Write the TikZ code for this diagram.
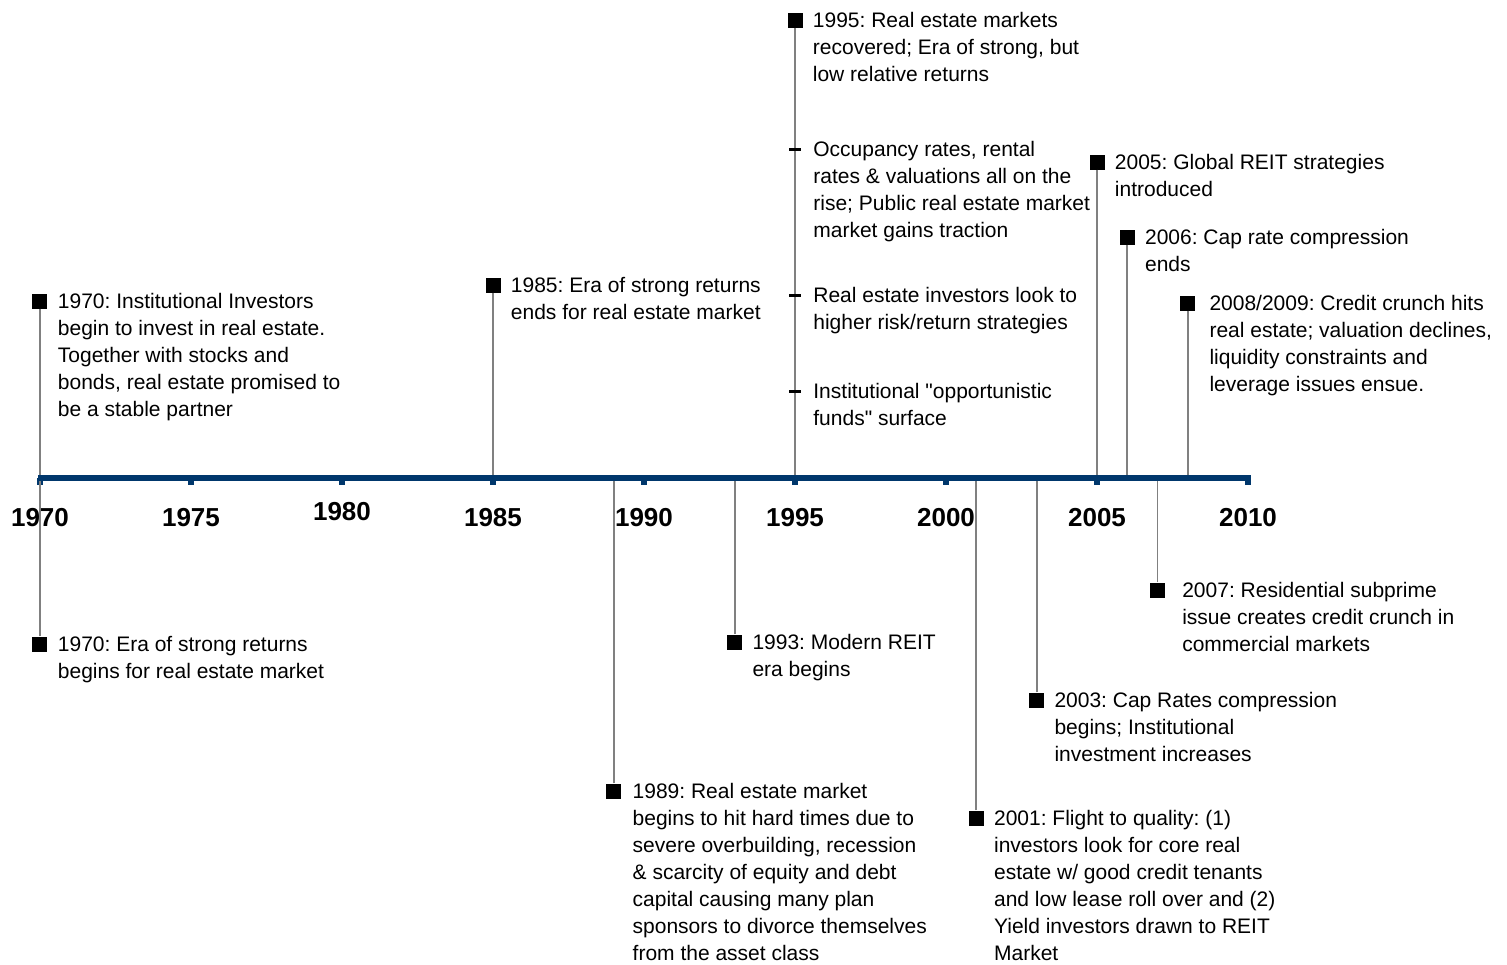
\documentclass[tikz,border=0pt]{standalone}
\usepackage{fontspec}
\setmainfont{Liberation Sans}[Ligatures=TeXOff]
\usepackage{xcolor}
\definecolor{AXISCOLOR}{RGB}{0,55,108}
\colorlet{STEMCOLOR}{black!50}
\colorlet{MARKCOLOR}{black}
\usepackage{tikz}
\usetikzlibrary{positioning,calc}
\tikzset{
  axis-style/.style = {
    draw=AXISCOLOR, line width=6pt
  },
  tick-style/.style = {
    rectangle, fill=AXISCOLOR, anchor=north,
    minimum width=6pt, minimum height=7pt, inner sep=0pt
  },
  year-style/.style = {
    font=\fontsize{26}{30}\selectfont\bfseries, inner sep=0pt
  },
  mark-style/.style = {
    rectangle, fill=MARKCOLOR,
    minimum size=15pt, inner sep=0pt
  },
  point-style/.style = {
    rectangle, fill=MARKCOLOR,
    minimum width=12pt, minimum height=3pt, inner sep=0pt
  },
  stem-style/.style = {
    draw=STEMCOLOR, line width=1.8pt
  },
  note-style/.style = {
    anchor=base west, inner sep=0pt,
    font=\fontsize{21}{27}\selectfont\frenchspacing
  }
}
\newlength\noteDrop
\setlength\noteDrop{7.5pt}
\def\axisLevel{478}
\newcommand\noteText[1]{\begin{tabular}[t]{@{}l@{}}#1\end{tabular}}
\def\createYear name:#1 year:#2 level:#3;{
  \node [tick-style] (#1-tick) at ({#2-1970},\axisLevel) {};
  \node [year-style] (#1) at ({#2-1970},#3) {#2};
}
\def\createEvent name:#1 year:#2 level:#3 gap:#4 text:#5;{
  \coordinate (#1-axis) at ({#2-1970},\axisLevel);
  \node [mark-style] (#1) at ({#2-1970},#3) {};
  \draw [stem-style] (#1) -- (#1-axis);
  \node [note-style] (#1-note) at ([xshift=#4,yshift=-\noteDrop]#1.east) {\noteText{#5}};
}
\def\createPoint name:#1 year:#2 level:#3 text:#4;{
  \node [point-style] (#1) at ({#2-1970},#3) {};
  \node [note-style] (#1-note) at ([xshift=12pt,yshift=-\noteDrop]#1.east) {\noteText{#4}};
}

\begin{document}
\begin{tikzpicture}[x=30.2pt, y=-1pt]
  \useasboundingbox (-1.3245,0) rectangle (48.5762,964);

  % years under the axis
  \createYear name:y1970 year:1970 level:518;
  \createYear name:y1975 year:1975 level:518;
  \createYear name:y1980 year:1980 level:512;
  \createYear name:y1985 year:1985 level:518;
  \createYear name:y1990 year:1990 level:518;
  \createYear name:y1995 year:1995 level:518;
  \createYear name:y2000 year:2000 level:518;
  \createYear name:y2005 year:2005 level:518;
  \createYear name:y2010 year:2010 level:518;

  % events above the axis
  \createEvent name:e1970a year:1970 level:301 gap:10pt text:{1970: Institutional Investors\\
    begin to invest in real estate.\\
    Together with stocks and\\
    bonds, real estate promised to\\
    be a stable partner};
  \createEvent name:e1985 year:1985 level:285 gap:10pt text:{1985: Era of strong returns\\
    ends for real estate market};
  \createEvent name:e1995 year:1995 level:20 gap:10pt text:{1995: Real estate markets\\
    recovered; Era of strong, but\\
    low relative returns};
  \createPoint name:p1995a year:1995 level:149 text:{Occupancy rates, rental\\
    rates \& valuations all on the\\
    rise; Public real estate market\\
    market gains traction};
  \createPoint name:p1995b year:1995 level:295 text:{Real estate investors look to\\
    higher risk/return strategies};
  \createPoint name:p1995c year:1995 level:391 text:{Institutional "opportunistic\\
    funds" surface};
  \createEvent name:e2005 year:2005 level:162 gap:10pt text:{2005: Global REIT strategies\\
    introduced};
  \createEvent name:e2006 year:2006 level:237 gap:10pt text:{2006: Cap rate compression\\
    ends};
  \createEvent name:e2008 year:2008 level:303 gap:14pt text:{2008/2009: Credit crunch hits\\
    real estate; valuation declines,\\
    liquidity constraints and\\
    leverage issues ensue.};

  % events below the axis
  \createEvent name:e1970b year:1970 level:644 gap:10pt text:{1970: Era of strong returns\\
    begins for real estate market};
  \createEvent name:e1989 year:1989 level:791 gap:11pt text:{1989: Real estate market\\
    begins to hit hard times due to\\
    severe overbuilding, recession\\
    \& scarcity of equity and debt\\
    capital causing many plan\\
    sponsors to divorce themselves\\
    from the asset class};
  \createEvent name:e1993 year:1993 level:642 gap:10pt text:{1993: Modern REIT\\
    era begins};
  \createEvent name:e2001 year:2001 level:818 gap:10pt text:{2001: Flight to quality: (1)\\
    investors look for core real\\
    estate w/ good credit tenants\\
    and low lease roll over and (2)\\
    Yield investors drawn to REIT\\
    Market};
  \createEvent name:e2003 year:2003 level:700 gap:10pt text:{2003: Cap Rates compression\\
    begins; Institutional\\
    investment increases};
  \createEvent name:e2007 year:2007 level:590 gap:17pt text:{2007: Residential subprime\\
    issue creates credit crunch in\\
    commercial markets};

  % the axis itself, on top of the stems
  \coordinate (axis-start) at (-0.07,\axisLevel);
  \coordinate (axis-end) at (40.1,\axisLevel);
  \draw [axis-style] (axis-start) -- (axis-end);
\end{tikzpicture}
\end{document}
